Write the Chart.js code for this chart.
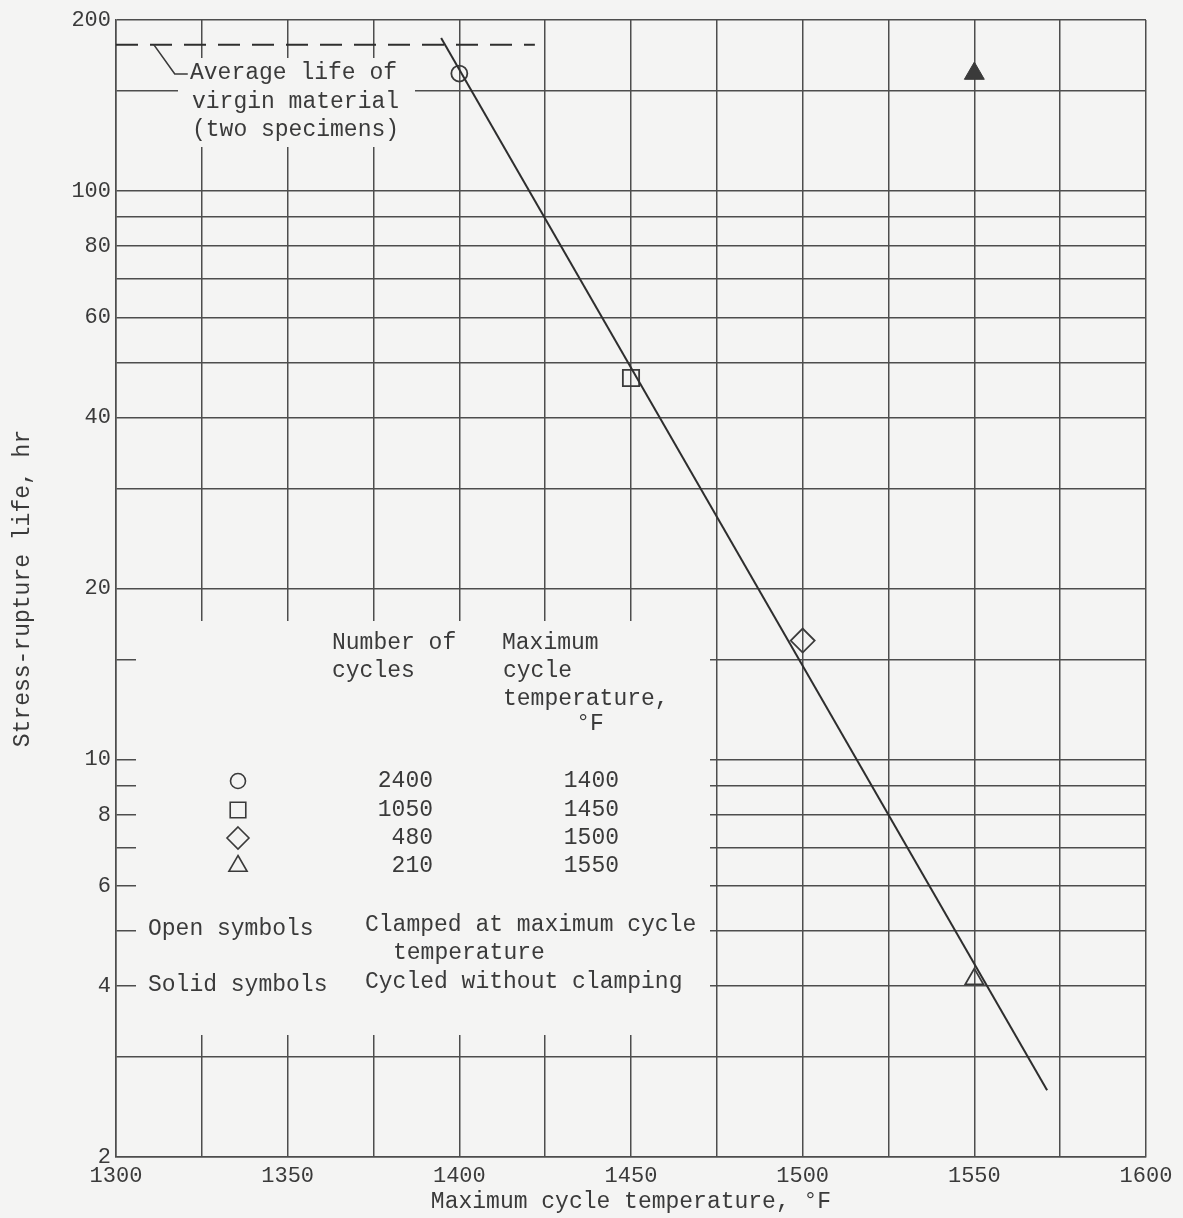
<!DOCTYPE html>
<html>
<head>
<meta charset="utf-8">
<script src="https://cdn.jsdelivr.net/npm/chart.js@4.4.0/dist/chart.umd.min.js"></script>
<style>
  html, body { margin: 0; padding: 0; background: #f4f4f3; }
  #wrap { width: 1183px; height: 1218px; }
</style>
</head>
<body>
<div id="wrap"><canvas id="ruptureChart" width="1183" height="1218"></canvas></div>
<script>
// axis grid / labels
const tempGrid = [1300, 1325, 1350, 1375, 1400, 1425, 1450, 1475, 1500, 1525, 1550, 1575, 1600];
const tempLabels = [1300, 1350, 1400, 1450, 1500, 1550, 1600];
const lifeGrid = [2, 3, 4, 5, 6, 7, 8, 9, 10, 15, 20, 30, 40, 50, 60, 70, 80, 90, 100, 150, 200];
const lifeLabels = [2, 4, 6, 8, 10, 20, 40, 60, 80, 100, 200];

// clamped specimens (open symbols)
const clampedTemp = [1400, 1450, 1500, 1550];
const clampedLife = [161, 46.9, 16.2, 4.11];
// cycled without clamping (solid symbol)
const freeTemp = [1550];
const freeLife = [161];
// faired line
const fitTemp = [1394.7, 1571.2];
const fitLife = [185.9, 2.62];
// average life of virgin material
const virginTemp = [1300, 1422];
const virginLife = [181, 181];

// legend table
const legendCycles = [2400, 1050, 480, 210];
const legendTemps = [1400, 1450, 1500, 1550];

const paper = '#f4f4f3';
const ink = '#3a3a3a';
const gridInk = '#4d4d4d';
const mono = "'Liberation Mono', 'DejaVu Sans Mono', monospace";
const symbols = ['circle', 'rect', 'rectRot', 'triangle'];
const symbolSize = [8, 11.5, 12, 10.5];

const ctx = document.getElementById('ruptureChart').getContext('2d');

function drawSymbol(c, style, x, y, r, fill) {
    c.beginPath();
    if (style === 'circle') {
        c.arc(x, y, r, 0, Math.PI * 2);
    } else if (style === 'rect') {
        const h = r * Math.SQRT1_2;
        c.rect(x - h, y - h, 2 * h, 2 * h);
    } else if (style === 'rectRot') {
        c.moveTo(x, y - r); c.lineTo(x + r, y); c.lineTo(x, y + r); c.lineTo(x - r, y); c.closePath();
    } else {
        c.moveTo(x, y - r);
        c.lineTo(x + r * 0.866, y + r / 2);
        c.lineTo(x - r * 0.866, y + r / 2);
        c.closePath();
    }
    if (fill) { c.fillStyle = ink; c.fill(); }
    c.stroke();
}

const notes = {
    id: 'notes',
    beforeDraw(chart) {
        const c = chart.ctx;
        c.save();
        c.fillStyle = paper;
        c.fillRect(0, 0, chart.width, chart.height);
        c.restore();
    },
    beforeDatasetsDraw(chart) {
        const c = chart.ctx;
        c.save();
        c.fillStyle = paper;
        c.fillRect(178, 58, 237, 89);   // behind the virgin-material note
        c.fillRect(136, 621, 574, 414); // behind the legend table
        c.restore();
    },
    afterDatasetsDraw(chart) {
        const c = chart.ctx;
        const xs = chart.scales.x, ys = chart.scales.y;
        c.save();
        c.strokeStyle = ink;
        c.fillStyle = ink;
        c.lineWidth = 1.6;

        // leader from dashed line to note
        const lx = xs.getPixelForValue(1311), ly = ys.getPixelForValue(virginLife[0]);
        c.beginPath();
        c.moveTo(lx, ly);
        c.lineTo(lx + 21, 74);
        c.lineTo(lx + 34, 74);
        c.stroke();

        c.font = '23px ' + mono;
        c.textBaseline = 'middle';
        c.textAlign = 'left';
        c.fillText('Average life of', 190, 73);
        c.fillText('virgin material', 192, 102);
        c.fillText('(two specimens)', 192, 130);

        // legend headings
        c.fillText('Number of', 332, 643);
        c.fillText('cycles', 332, 671);
        c.fillText('Maximum', 502, 643);
        c.fillText('cycle', 503, 671);
        c.fillText('temperature,', 503, 699);
        c.textAlign = 'center';
        c.fillText('\u00B0F', 590, 724);

        // legend rows
        const rowY = [781, 810, 838, 866];
        const legendR = [7.5, 11, 11, 10.5];
        legendCycles.forEach((n, i) => {
            drawSymbol(c, symbols[i], 238, rowY[i], legendR[i], false);
            c.textAlign = 'right';
            c.fillText(String(n), 433, rowY[i]);
            c.fillText(String(legendTemps[i]), 619, rowY[i]);
        });

        c.textAlign = 'left';
        c.fillText('Open symbols', 148, 929);
        c.fillText('Clamped at maximum cycle', 365, 925);
        c.fillText('temperature', 393, 953);
        c.fillText('Solid symbols', 148, 985);
        c.fillText('Cycled without clamping', 365, 982);
        c.restore();
    }
};

const chart = new Chart(ctx, {
    type: 'scatter',
    data: {
        datasets: [
            {
                label: 'Faired curve',
                data: fitTemp.map((t, i) => ({ x: t, y: fitLife[i] })),
                showLine: true,
                borderColor: '#2e2e2e',
                borderWidth: 2,
                pointRadius: 0
            },
            {
                label: 'Average life of virgin material',
                data: virginTemp.map((t, i) => ({ x: t, y: virginLife[i] })),
                showLine: true,
                borderColor: '#2e2e2e',
                borderWidth: 2,
                borderDash: [22, 12],
                pointRadius: 0
            },
            {
                label: 'Clamped at maximum cycle temperature',
                data: clampedTemp.map((t, i) => ({ x: t, y: clampedLife[i] })),
                pointStyle: symbols,
                pointRadius: symbolSize,
                borderColor: ink,
                backgroundColor: 'rgba(0,0,0,0)',
                borderWidth: 1.8
            },
            {
                label: 'Cycled without clamping',
                data: freeTemp.map((t, i) => ({ x: t, y: freeLife[i] })),
                pointStyle: 'triangle',
                pointRadius: 11.5,
                borderColor: ink,
                backgroundColor: ink,
                borderWidth: 1
            }
        ]
    },
    options: {
        responsive: false,
        animation: false,
        layout: { padding: { top: 20, right: 37, left: 0, bottom: 0 } },
        plugins: {
            legend: { display: false },
            tooltip: { enabled: false }
        },
        scales: {
            x: {
                type: 'linear',
                min: 1300,
                max: 1600,
                afterBuildTicks: s => { s.ticks = tempGrid.map(v => ({ value: v })); },
                afterFit: s => { s.height = 61; },
                grid: { color: gridInk, lineWidth: 1.5, drawTicks: false },
                border: { color: gridInk, width: 1.5 },
                ticks: {
                    padding: 6,
                    color: ink,
                    maxRotation: 0,
                    autoSkip: false,
                    font: { family: mono, size: 22 },
                    callback: v => tempLabels.includes(v) ? String(v) : ''
                },
                title: {
                    display: true,
                    text: 'Maximum cycle temperature, \u00B0F',
                    color: ink,
                    font: { family: mono, size: 23 },
                    padding: { top: 0, bottom: 2 }
                }
            },
            y: {
                type: 'logarithmic',
                min: 2,
                max: 200,
                afterBuildTicks: s => { s.ticks = lifeGrid.map(v => ({ value: v })); },
                afterFit: s => { s.width = 116; },
                grid: { color: gridInk, lineWidth: 1.5, drawTicks: false },
                border: { color: gridInk, width: 1.5 },
                ticks: {
                    padding: 5,
                    color: ink,
                    autoSkip: false,
                    font: { family: mono, size: 22 },
                    callback: v => lifeLabels.includes(v) ? String(v) : ''
                },
                title: {
                    display: true,
                    text: 'Stress-rupture life, hr',
                    color: ink,
                    font: { family: mono, size: 23 },
                    padding: { top: 9, bottom: 0 }
                }
            }
        }
    },
    plugins: [notes]
});
</script>
</body>
</html>
